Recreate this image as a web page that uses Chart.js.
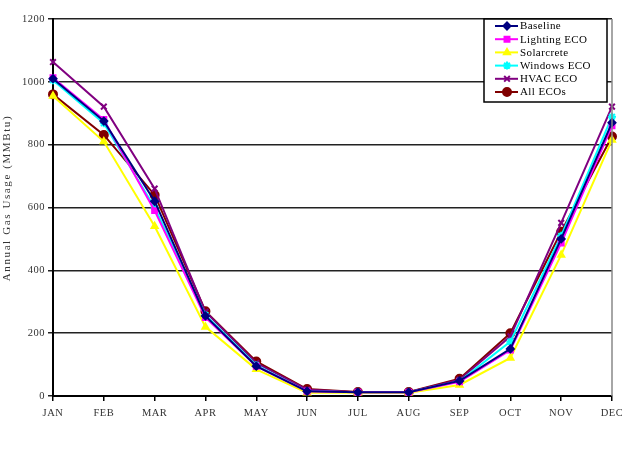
<!DOCTYPE html>
<html>
<head>
<meta charset="utf-8">
<script src="https://cdn.jsdelivr.net/npm/chart.js@4"></script>
<style>
  html, body { margin: 0; padding: 0; background: #fff; }
  #wrap { width: 622px; height: 452px; position: relative; }
</style>
</head>
<body>
<div id="wrap"><canvas id="mainChart" width="622" height="452"></canvas></div>
<script>
// data (MMBtu)
const months = ["JAN", "FEB", "MAR", "APR", "MAY", "JUN", "JUL", "AUG", "SEP", "OCT", "NOV", "DEC"];
const baseline    = [1010, 875, 620, 255, 95, 15, 12, 12, 48, 150, 500, 870];
const lightingEco = [1013, 880, 590, 250, 95, 15, 12, 12, 45, 146, 487, 860];
const solarcrete  = [955, 810, 540, 220, 85, 10, 10, 10, 35, 121, 449, 815];
const windowsEco  = [1005, 868, 600, 258, 98, 15, 12, 12, 47, 173, 510, 889];
const hvacEco     = [1063, 921, 660, 268, 105, 20, 12, 12, 52, 190, 551, 921];
const allEcos     = [960, 831, 640, 270, 110, 22, 13, 13, 55, 200, 523, 826];
const yTicks = [0, 200, 400, 600, 800, 1000, 1200];
const yTitle = "Annual Gas Usage (MMBtu)";

const FONT = "'Liberation Serif', 'Times New Roman', serif";

function series(label, data, color, style, radius) {
    return {
        label: label,
        data: data,
        borderColor: color,
        backgroundColor: color,
        borderWidth: 2,
        pointStyle: style,
        pointRadius: radius,
        pointBorderWidth: 2,
        tension: 0
    };
}

const datasets = [
    series("Baseline", baseline, "#000080", "rectRot", 3.5),
    series("Lighting ECO", lightingEco, "#ff00ff", "rect", 3.5),
    series("Solarcrete", solarcrete, "#ffff00", "triangle", 3.5),
    series("Windows ECO", windowsEco, "#00ffff", "star", 4),
    series("HVAC ECO", hvacEco, "#800080", "crossRot", 4),
    series("All ECOs", allEcos, "#800000", "circle", 4)
];

// letter spacing like the original, legend box, y title, gray right edge
const boxLegend = {
    id: "boxLegend",
    beforeDraw(chart) {
        chart.ctx.letterSpacing = "0.5px";
    },
    afterDraw(chart) {
        const c = chart.ctx;
        const area = chart.chartArea;

        c.save();
        c.strokeStyle = "#888";
        c.lineWidth = 1.5;
        c.beginPath();
        c.moveTo(area.right, area.top);
        c.lineTo(area.right, area.bottom);
        c.stroke();

        // y axis title
        c.save();
        c.translate(7, 198);
        c.rotate(-Math.PI / 2);
        c.letterSpacing = "1.6px";
        c.font = "11px " + FONT;
        c.fillStyle = "#333";
        c.textAlign = "center";
        c.textBaseline = "middle";
        c.fillText(yTitle, 0, 0);
        c.restore();

        const x0 = 484, y0 = 19, w = 123, h = 83;
        c.fillStyle = "#fff";
        c.fillRect(x0, y0, w, h);
        c.strokeStyle = "#000";
        c.lineWidth = 1.5;
        c.strokeRect(x0, y0, w, h);

        c.letterSpacing = "0.4px";
        c.font = "11px " + FONT;
        c.textBaseline = "middle";
        chart.data.datasets.forEach((ds, i) => {
            const y = 26 + i * 13.2;
            c.strokeStyle = ds.borderColor;
            c.lineWidth = 2;
            c.beginPath();
            c.moveTo(495, y);
            c.lineTo(518, y);
            c.stroke();
            c.fillStyle = ds.backgroundColor;
            c.strokeStyle = ds.borderColor;
            Chart.helpers.drawPoint(c, {
                pointStyle: ds.pointStyle,
                radius: ds.pointRadius,
                rotation: 0,
                borderWidth: 2
            }, 507, y);
            c.fillStyle = "#000";
            c.fillText(ds.label, 520, y + 0.5);
        });
        c.restore();
    }
};

new Chart(document.getElementById("mainChart"), {
    type: "line",
    data: { labels: months, datasets: datasets },
    options: {
        responsive: false,
        animation: false,
        layout: { padding: { left: 0, right: 10, top: 19, bottom: 0 } },
        plugins: {
            legend: { display: false },
            tooltip: { enabled: false }
        },
        scales: {
            x: {
                offset: false,
                grid: {
                    drawOnChartArea: false,
                    drawTicks: true,
                    tickLength: 5,
                    color: "#000",
                    lineWidth: 1.5
                },
                border: { color: "#000", width: 2 },
                ticks: {
                    color: "#333",
                    font: { family: FONT, size: 10.5 },
                    padding: 6,
                    maxRotation: 0,
                    autoSkip: false
                },
                afterFit(scale) {
                    scale.height = 56;
                    scale.paddingLeft = 0;
                    scale.paddingRight = 0;
                }
            },
            y: {
                min: 0,
                max: 1200,
                afterBuildTicks(scale) {
                    scale.ticks = yTicks.map(v => ({ value: v }));
                },
                grid: {
                    color: "#222",
                    lineWidth: 1.5,
                    tickLength: 5
                },
                border: { color: "#000", width: 2 },
                ticks: {
                    color: "#333",
                    font: { family: FONT, size: 10.5 },
                    padding: 3,
                    callback: v => String(v)
                },
                afterFit(scale) {
                    scale.width = 53;
                }
            }
        }
    },
    plugins: [boxLegend]
});
</script>
</body>
</html>
